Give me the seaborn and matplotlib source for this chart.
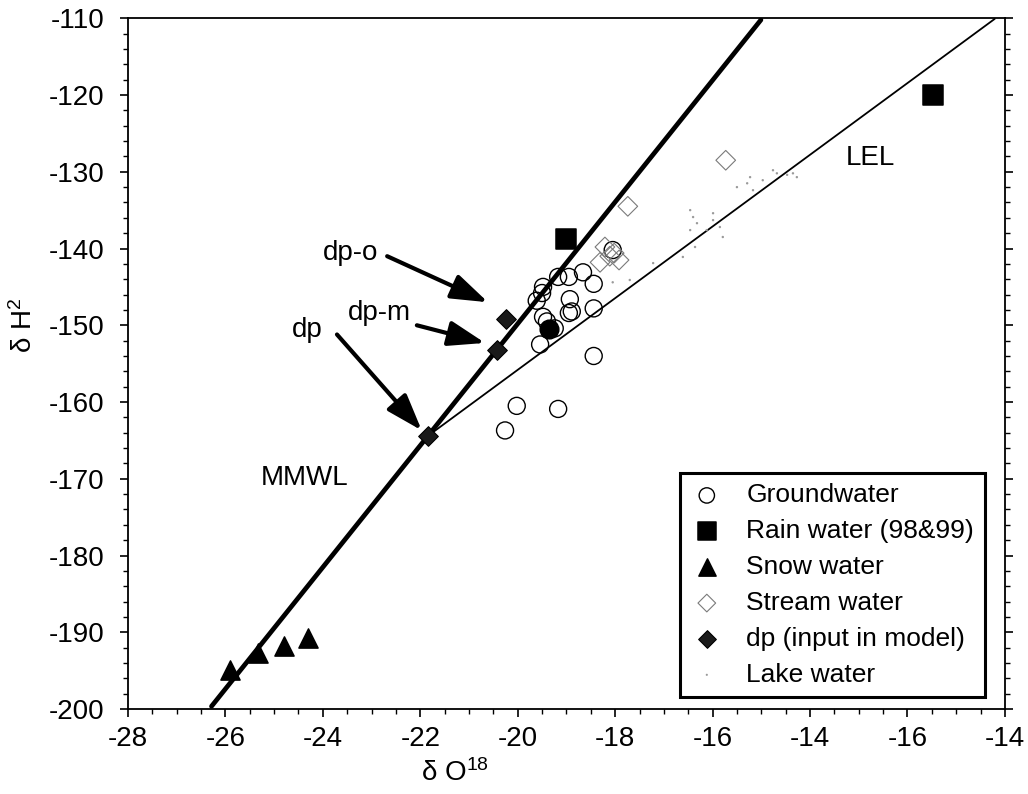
import numpy as np
import pandas as pd
import matplotlib
matplotlib.use("Agg")
import matplotlib.pyplot as plt
import seaborn as sns
from matplotlib.ticker import MultipleLocator, FixedLocator, FixedFormatter

# ---- isotope data (delta O-18, delta H-2) ----
gw_o18 = [-19.17, -18.95, -18.66, -18.44, -19.48, -19.50, -19.61, -18.93, -18.95,
          -18.89, -18.44, -19.48, -19.40, -19.24, -19.54, -18.44, -18.05, -20.02,
          -20.26, -19.17]
gw_h2 = [-143.7, -143.7, -143.1, -144.6, -145.0, -145.8, -146.8, -146.6, -148.4,
         -148.2, -147.8, -148.9, -149.5, -150.4, -152.5, -154.0, -140.2, -160.5,
         -163.7, -160.9]

gw_mean_o18 = [-19.36]
gw_mean_h2 = [-150.5]

rain_o18 = [-19.01, -11.48]
rain_h2 = [-138.7, -120.0]

snow_o18 = [-25.91, -25.33, -24.80, -24.31]
snow_h2 = [-194.9, -192.7, -191.8, -190.8]

stream_o18 = [-15.73, -17.74, -18.21, -18.02, -18.31, -17.92, -18.11]
stream_h2 = [-128.5, -134.5, -139.8, -140.6, -141.8, -141.5, -141.0]

dp_names = ["dp", "dp-m", "dp-o"]
dp_o18 = [-21.84, -20.43, -20.24]
dp_h2 = [-164.4, -153.2, -149.2]

lake_o18 = [-16.32, -15.99, -15.85, -16.40, -16.46, -16.36, -16.61, -17.22, -17.70,
            -18.05, -15.50, -15.29, -15.17, -14.97, -14.68, -14.47, -14.27, -15.99,
            -16.12, -15.79, -16.46, -15.23, -14.76, -14.35]
lake_h2 = [-136.7, -136.3, -137.2, -135.9, -137.6, -139.8, -141.1, -141.9, -144.1,
           -144.4, -132.0, -131.5, -132.4, -131.1, -130.2, -130.4, -130.7, -135.4,
           -137.6, -138.5, -135.0, -130.7, -129.8, -130.2]

# local meteoric water line and lake evaporation line
mmwl_slope, mmwl_intercept = 7.93, 8.8
lel_slope = 4.67

x_ticks = [-28, -26, -24, -22, -20, -18, -16, -14, -12, -10]
x_tick_labels = ["-28", "-26", "-24", "-22", "-20", "-18", "-16", "-14", "-16", "-14"]
y_ticks = [-200, -190, -180, -170, -160, -150, -140, -130, -120, -110]

sns.set_style("white")
plt.rcParams["font.family"] = ["Liberation Sans", "DejaVu Sans"]
plt.rcParams["mathtext.fontset"] = "custom"
plt.rcParams["mathtext.rm"] = "Liberation Sans"
plt.rcParams["mathtext.default"] = "regular"
plt.rcParams["axes.unicode_minus"] = False
plt.rcParams["text.color"] = "black"
plt.rcParams["axes.labelcolor"] = "black"

fig = plt.figure(figsize=(10.28, 7.94), dpi=100)
ax = fig.add_axes([0.1245, 0.107, 0.853, 0.870])

xmin, xmax = -28, -10
ymin, ymax = -200, -110

# MMWL across the plot
mx = np.linspace(xmin, xmax, 400)
my = mmwl_slope * mx + mmwl_intercept
keep = (my >= ymin) & (my <= ymax)
sns.lineplot(x=mx[keep], y=my[keep], color="black", lw=3.4, ax=ax, legend=False)

# LEL starting at the dp point
lx = np.linspace(dp_o18[0], xmax, 400)
ly = dp_h2[0] + lel_slope * (lx - dp_o18[0])
keep = ly <= ymax
sns.lineplot(x=lx[keep], y=ly[keep], color="black", lw=1.3, ax=ax, legend=False)

sns.scatterplot(x=lake_o18, y=lake_h2, marker=".", s=12, color="#9a9a9a",
                edgecolor="none", ax=ax, label="Lake water", zorder=3)
sns.scatterplot(x=gw_o18, y=gw_h2, marker="o", s=150, facecolor="none",
                edgecolor="black", linewidth=1.0, ax=ax, label="Groundwater", zorder=4)
sns.scatterplot(x=gw_mean_o18, y=gw_mean_h2, marker="o", s=180, color="black",
                edgecolor="black", ax=ax, label="_nolegend_", zorder=5)
sns.scatterplot(x=stream_o18, y=stream_h2, marker="D", s=100, facecolor="none",
                edgecolor="#7a7a7a", linewidth=0.8, ax=ax, label="Stream water", zorder=4)
sns.scatterplot(x=rain_o18, y=rain_h2, marker="s", s=190, color="black",
                edgecolor="black", ax=ax, label="Rain water (98&99)", zorder=5)
sns.scatterplot(x=snow_o18, y=snow_h2, marker="^", s=190, color="black",
                edgecolor="black", ax=ax, label="Snow water", zorder=5)
sns.scatterplot(x=dp_o18, y=dp_h2, marker="D", s=100, color="#1a1a1a",
                edgecolor="black", ax=ax, label="dp (input in model)", zorder=6)

# arrows pointing at the model inputs
arrow_tails = {"dp-o": (-22.68, -141.0), "dp-m": (-22.07, -150.0), "dp": (-23.71, -151.2)}
arrow_tips = {"dp-o": (-20.61, -147.0), "dp-m": (-20.67, -152.3), "dp": (-21.97, -163.7)}
label_pos = {"dp-o": (-23.44, -140.6), "dp-m": (-22.83, -148.4), "dp": (-24.31, -150.6)}
for name in dp_names:
    ax.annotate("", xy=arrow_tips[name], xytext=arrow_tails[name],
                arrowprops=dict(arrowstyle="-|>,head_length=0.7,head_width=0.24",
                                color="black", lw=3.0,
                                mutation_scale=32, shrinkA=0, shrinkB=0))
    ax.text(*label_pos[name], name, fontsize=20, ha="center", va="center")

ax.text(-24.37, -169.9, "MMWL", fontsize=20, ha="center", va="center")
ax.text(-12.77, -128.2, "LEL", fontsize=20, ha="center", va="center")

ax.set_xlim(xmin, xmax)
ax.set_ylim(ymin, ymax)
ax.xaxis.set_major_locator(FixedLocator(x_ticks))
ax.xaxis.set_major_formatter(FixedFormatter(x_tick_labels))
ax.xaxis.set_minor_locator(MultipleLocator(0.5))
ax.yaxis.set_major_locator(FixedLocator(y_ticks))
ax.yaxis.set_minor_locator(MultipleLocator(2))
ax.tick_params(which="major", direction="out", length=6, width=1.2,
               labelsize=20, left=True, bottom=True, right=True,
               colors="black", labelcolor="black")
ax.tick_params(which="minor", direction="out", length=3.5, width=1.0,
               left=True, bottom=True, right=True, colors="black")
ax.tick_params(axis="y", which="major", pad=11)
ax.tick_params(axis="x", which="major", pad=6)
for sp in ax.spines.values():
    sp.set_color("black")
    sp.set_linewidth(1.3)

ax.set_xlabel("δ O$^{18}$", fontsize=20)
ax.set_ylabel("δ H$^{2}$", fontsize=20)
ax.xaxis.set_label_coords(0.373, -0.072)
ax.yaxis.set_label_coords(-0.103, 0.555)

order = ["Groundwater", "Rain water (98&99)", "Snow water", "Stream water",
         "dp (input in model)", "Lake water"]
handles, labels = ax.get_legend_handles_labels()
hmap = dict(zip(labels, handles))
leg = ax.legend([hmap[k] for k in order], order, loc="lower right",
                bbox_to_anchor=(0.977, 0.017), borderaxespad=0, fontsize=19,
                frameon=True, fancybox=False, framealpha=1, edgecolor="black",
                handletextpad=0.9, labelspacing=0.45, borderpad=0.4,
                handlelength=1.2, markerscale=0.9, labelcolor="black")
leg.get_frame().set_linewidth(2.2)

fig.savefig("out.png", dpi=100)
